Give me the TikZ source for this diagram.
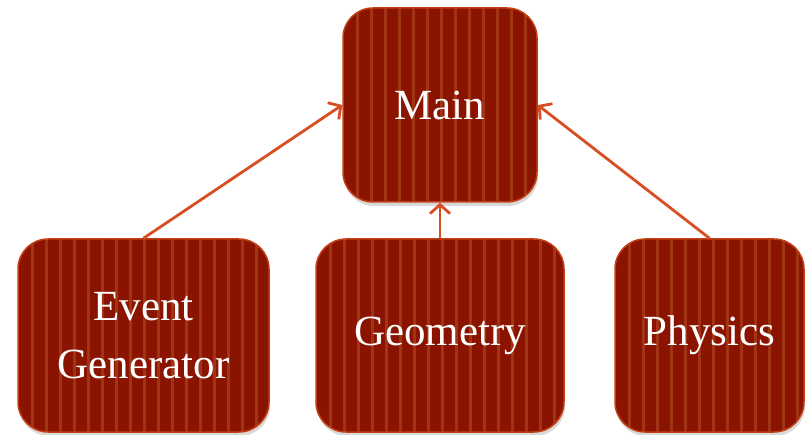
\documentclass[tikz,border=0pt]{standalone}
\usepackage{fontspec}
\setmainfont{Liberation Serif}
\usetikzlibrary{arrows.meta,shadows}

\definecolor{boxred}{RGB}{138,20,0}
\definecolor{stripered}{RGB}{162,52,22}
\definecolor{edgered}{RGB}{196,62,20}
\definecolor{arrowred}{RGB}{214,78,34}

\begin{document}
\begin{tikzpicture}[x=1pt, y=1pt]
            \useasboundingbox (0, 0) rectangle (805, 434);
            {
                \tikzset{every node/.style = {shape=rectangle, rounded corners=30pt, draw=edgered, line width=1.5pt,
                    fill=boxred, text=white, inner sep=0pt, minimum height=193pt, align=center,
                    font=\fontsize{43}{58}\selectfont,
                    drop shadow={opacity=0.3, shadow xshift=1pt, shadow yshift=-4pt},
                    path picture={\foreach \i in {1,...,18}
                        \draw[stripered, line width=3pt] ([xshift=\i*14pt]path picture bounding box.south west)
                            -- ([xshift=\i*14pt]path picture bounding box.north west);}}}

                \node[minimum width=194pt, minimum height=194pt] (main) at (440, 329) {Main};
                \node[minimum width=251pt] (evgen) at (143.5, 98.5) {Event\\Generator};
                \node[minimum width=248pt] (geom) at (440, 98.5) {Geometry};
                \node[minimum width=189pt] (phys) at (709.5, 98.5) {Physics};
            }

            % arrows from each module up to main
            \tikzset{dep/.style = {draw=arrowred, line width=2.8pt, -{Straight Barb[length=9pt, width=20pt]}}}
            \draw[dep] (evgen.north) -- (main.west);
            \draw[dep] (geom.north) -- (main.south);
            \draw[dep] (phys.north) -- (main.east);

        \end{tikzpicture}
\end{document}
